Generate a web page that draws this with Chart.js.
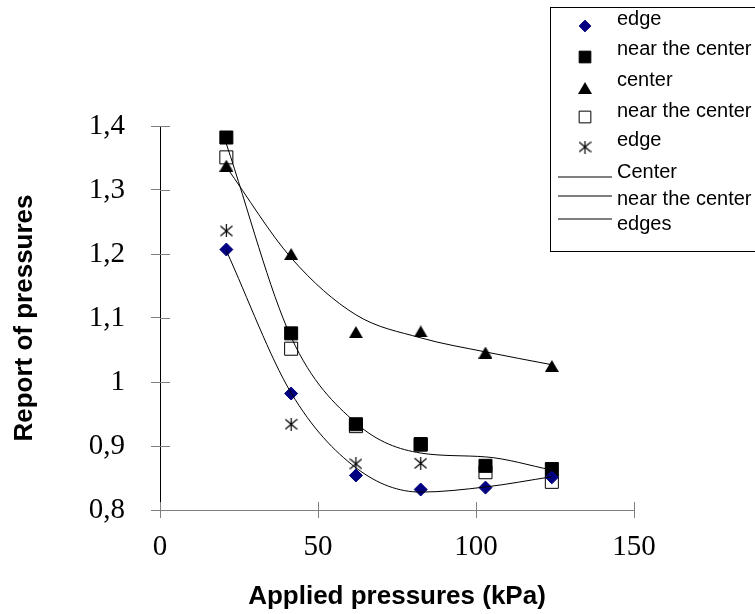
<!DOCTYPE html>
<html>
<head>
<meta charset="utf-8">
<script src="https://cdn.jsdelivr.net/npm/chart.js@4/dist/chart.umd.min.js"></script>
<style>
html,body{margin:0;padding:0;background:#fff;}
#wrap{width:755px;height:614px;position:relative;}
canvas{display:block;}
</style>
</head>
<body>
<div id="wrap"><canvas id="c" width="755" height="614" style="width:755px;height:614px"></canvas></div>
<script>
// ---- data ----
const pressures = [21, 41.5, 62, 82.5, 103, 124];
const edgeDiamond      = [1.207, 0.982, 0.854, 0.832, 0.835, 0.851];
const nearCenterFilled = [1.382, 1.076, 0.934, 0.903, 0.869, 0.864];
const centerTriangle   = [1.338, 1.200, 1.078, 1.079, 1.046, 1.025];
const nearCenterOpen   = [1.351, 1.052, 0.931, 0.902, 0.859, 0.844];
const edgeStar         = [1.236, 0.934, 0.872, 0.873, 0.864, 0.855];
const centerTrend      = [1.336, 1.194, 1.105, 1.069, 1.047, 1.027];
const nearCenterTrend  = [1.372, 1.070, 0.936, 0.889, 0.883, 0.8625];
const edgesTrend       = [1.205, 0.983, 0.866, 0.828, 0.836, 0.852];
const xTickValues = [0, 50, 100, 150];
const xTickLabels = ['0', '50', '100', '150'];
const yTickValues = [0.8, 0.9, 1.0, 1.1, 1.2, 1.3, 1.4];
const yTickLabels = ['0,8', '0,9', '1', '1,1', '1,2', '1,3', '1,4'];
const seriesLabels = ['edge', 'near the center', 'center', 'near the center', 'edge', 'Center', 'near the center', 'edges'];

const pts = arr => pressures.map((x, i) => ({x: x, y: arr[i]}));

// custom marker images
function makeAsterisk() {
  const c = document.createElement('canvas'); c.width = 13; c.height = 13;
  const g = c.getContext('2d');
  g.strokeStyle = '#000'; g.lineWidth = 1.2;
  g.beginPath();
  g.moveTo(6.5, 0); g.lineTo(6.5, 13);
  g.moveTo(0.5, 1.5); g.lineTo(12.5, 11.5);
  g.moveTo(12.5, 1.5); g.lineTo(0.5, 11.5);
  g.stroke();
  return c;
}
function makeTriangle() {
  const c = document.createElement('canvas'); c.width = 14; c.height = 12;
  const g = c.getContext('2d');
  g.fillStyle = '#000';
  g.beginPath();
  g.moveTo(7, 0); g.lineTo(14, 12); g.lineTo(0, 12); g.closePath();
  g.fill();
  return c;
}
const asteriskImg = makeAsterisk();
const triangleImg = makeTriangle();

const datasets = [
  {label: seriesLabels[0], data: pts(edgeDiamond), pointStyle: 'rectRot', pointRadius: 6.5,
   backgroundColor: '#000080', borderColor: '#000080', borderWidth: 1, showLine: false, order: 2},
  {label: seriesLabels[1], data: pts(nearCenterFilled), pointStyle: 'rect', pointRadius: 9.2,
   backgroundColor: '#000', borderColor: '#000', borderWidth: 1, showLine: false, order: 3},
  {label: seriesLabels[2], data: pts(centerTriangle), pointStyle: triangleImg, pointRadius: 7,
   backgroundColor: '#000', borderColor: '#000', borderWidth: 0, showLine: false, order: 4},
  {label: seriesLabels[3], data: pts(nearCenterOpen), pointStyle: 'rect', pointRadius: 9.2,
   backgroundColor: '#fff', borderColor: '#000', borderWidth: 1, showLine: false, order: 5},
  {label: seriesLabels[4], data: pts(edgeStar), pointStyle: asteriskImg, pointRadius: 6.5,
   backgroundColor: '#000', borderColor: '#000', borderWidth: 1, showLine: false, order: 6},
  {label: seriesLabels[5], data: pts(centerTrend), showLine: true, pointRadius: 0, borderColor: '#000',
   borderWidth: 1, cubicInterpolationMode: 'monotone', fill: false, order: 1},
  {label: seriesLabels[6], data: pts(nearCenterTrend), showLine: true, pointRadius: 0, borderColor: '#000',
   borderWidth: 1, cubicInterpolationMode: 'monotone', fill: false, order: 1},
  {label: seriesLabels[7], data: pts(edgesTrend), showLine: true, pointRadius: 0, borderColor: '#000',
   borderWidth: 1, cubicInterpolationMode: 'monotone', fill: false, order: 1}
];

// ticks that cross the axis line (inner half)
const crossTicks = {
  id: 'crossTicks',
  afterDatasetsDraw(chart) {
    const ctx = chart.ctx, xs = chart.scales.x, ys = chart.scales.y, a = chart.chartArea;
    ctx.save();
    ctx.strokeStyle = '#808080'; ctx.lineWidth = 1;
    ctx.beginPath();
    xs.ticks.forEach(t => {
      const px = Math.round(xs.getPixelForValue(t.value)) + 0.5;
      ctx.moveTo(px, a.bottom); ctx.lineTo(px, a.bottom - 8);
    });
    ys.ticks.forEach(t => {
      const py = Math.round(ys.getPixelForValue(t.value)) + 0.5;
      ctx.moveTo(a.left, py); ctx.lineTo(a.left + 10, py);
    });
    ctx.stroke();
    ctx.restore();
  }
};

// boxed legend in the top-right corner
const boxLegend = {
  id: 'boxLegend',
  afterDraw(chart) {
    const ctx = chart.ctx;
    const textBase = [25, 55, 86, 117, 146, 178, 205, 230];
    const symY = [26, 57, 88, 117, 147, 177, 196, 219];
    ctx.save();
    ctx.fillStyle = '#fff';
    ctx.fillRect(550, 7, 210, 245);
    ctx.strokeStyle = '#000'; ctx.lineWidth = 1;
    ctx.strokeRect(550.5, 7.5, 210, 244);
    ctx.font = '20px "Liberation Sans", Arial, sans-serif';
    ctx.textAlign = 'left'; ctx.textBaseline = 'alphabetic';
    chart.data.datasets.forEach((ds, i) => {
      ctx.fillStyle = '#000';
      ctx.fillText(ds.label, 617, textBase[i]);
      if (ds.showLine) {
        ctx.strokeStyle = ds.borderColor; ctx.lineWidth = 1;
        ctx.beginPath(); ctx.moveTo(558, symY[i]); ctx.lineTo(612, symY[i]); ctx.stroke();
      } else {
        ctx.fillStyle = ds.backgroundColor; ctx.strokeStyle = ds.borderColor;
        ctx.lineWidth = ds.borderWidth;
        Chart.helpers.drawPoint(ctx, {pointStyle: ds.pointStyle, radius: ds.pointRadius * 0.9, rotation: 0, borderWidth: ds.borderWidth}, 585, symY[i]);
      }
    });
    ctx.restore();
  }
};

new Chart(document.getElementById('c'), {
  type: 'scatter',
  data: {datasets: datasets},
  plugins: [crossTicks, boxLegend],
  options: {
    responsive: false,
    animation: false,
    devicePixelRatio: 1,
    layout: {padding: {top: 126, right: 121, left: 0, bottom: 0}},
    plugins: {legend: {display: false}, tooltip: {enabled: false}},
    scales: {
      x: {
        type: 'linear', min: 0, max: 150,
        afterBuildTicks: s => { s.ticks = xTickValues.map(v => ({value: v})); },
        afterFit: s => { s.height = 104; s.paddingLeft = 0; s.paddingRight = 0; },
        ticks: {
          callback: (v, i) => xTickLabels[i],
          font: {family: '"Liberation Serif", "Times New Roman", serif', size: 29},
          color: '#000', padding: 12, maxRotation: 0, autoSkip: false
        },
        grid: {display: true, drawOnChartArea: false, drawTicks: true, tickLength: 8, color: '#808080'},
        border: {display: true, color: '#808080', width: 1},
        title: {display: true, text: 'Applied pressures (kPa)', color: '#000',
          font: {family: '"Liberation Sans", Arial, sans-serif', size: 26, weight: 'bold'},
          padding: {top: 0, bottom: 2}}
      },
      y: {
        type: 'linear', min: 0.8, max: 1.4,
        afterBuildTicks: s => { s.ticks = yTickValues.map(v => ({value: v})); },
        afterFit: s => { s.width = 160; s.paddingTop = 0; s.paddingBottom = 0; },
        ticks: {
          callback: (v, i) => yTickLabels[i],
          font: {family: '"Liberation Serif", "Times New Roman", serif', size: 29},
          color: '#000', padding: 26, autoSkip: false
        },
        grid: {display: true, drawOnChartArea: false, drawTicks: true, tickLength: 9, color: '#808080'},
        border: {display: true, color: '#000', width: 1},
        title: {display: true, text: 'Report of pressures', color: '#000',
          font: {family: '"Liberation Sans", Arial, sans-serif', size: 26, weight: 'bold'},
          padding: {top: 9, bottom: 0}}
      }
    }
  }
});
</script>
</body>
</html>
